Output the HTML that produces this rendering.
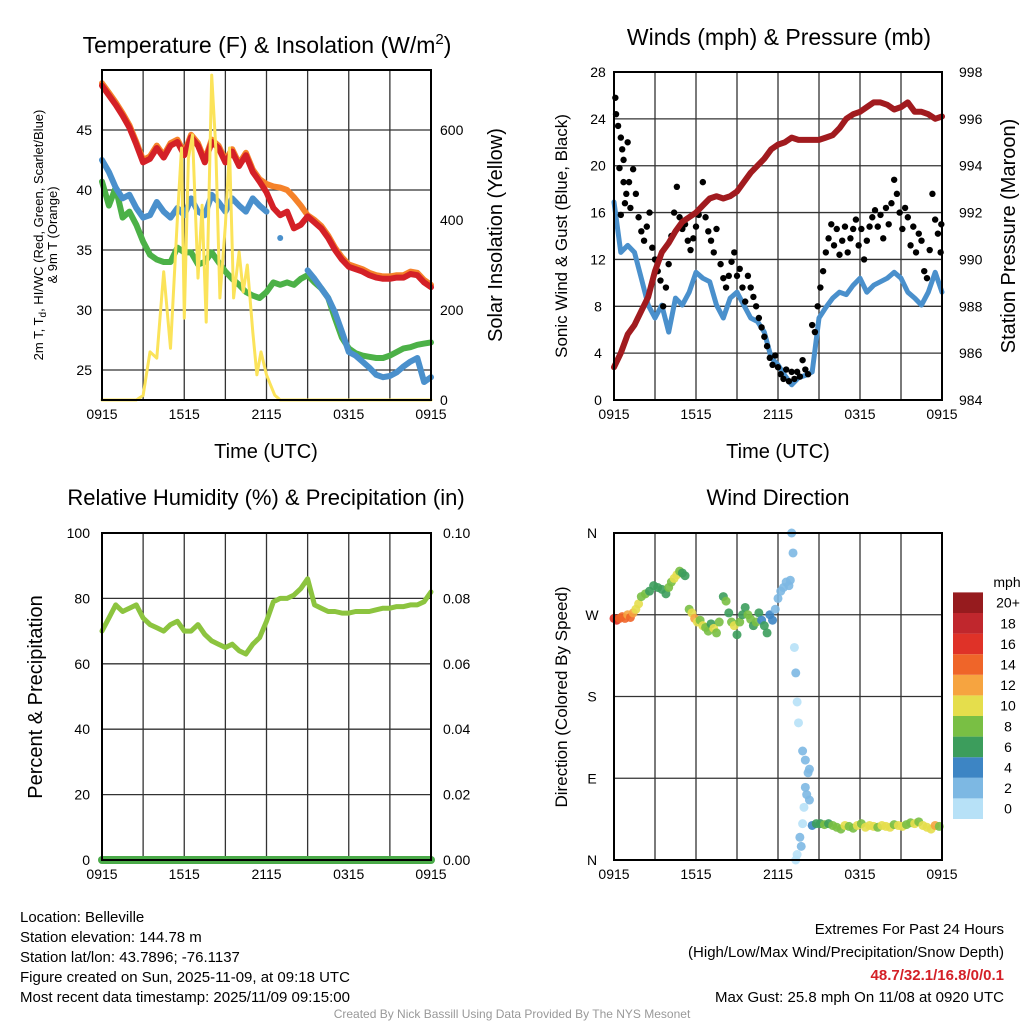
<!DOCTYPE html>
<html><head><meta charset="utf-8"><style>
body{margin:0;background:#fff;}
svg{display:block;font-family:"Liberation Sans",sans-serif;}
</style></head><body>
<svg id="s" width="1024" height="1024" viewBox="0 0 1024 1024"></svg>
<script>
// ---- data ----
const halfHours = Array.from({length:49},(_,i)=>i*0.5);
const tempRed = [48.7,47.9,47.1,46.2,45.2,43.8,42.3,42.6,43.5,42.7,43.7,44,42.9,44.4,43.7,42.3,44,43.5,42.3,43.2,42,42.9,41.5,40.7,39.8,38.5,37.9,38.2,36.8,37.1,37.8,37.3,36.8,36,35,34.2,33.6,33.4,33.2,32.9,32.7,32.6,32.6,32.7,32.7,33,32.9,32.3,31.9];
const temp9mOrange = [48.9,48.1,47.3,46.4,45.4,44,42.5,42.8,43.7,42.9,43.9,44.2,43.1,44.6,43.9,42.5,44.2,43.7,42.5,43.4,42.2,43.1,41.7,40.9,40.5,40.3,40.2,40.0,39.4,38.7,37.9,37.5,37,36.2,35.2,34.4,33.8,33.6,33.4,33.1,32.9,32.8,32.8,32.9,32.9,33.2,33.1,32.5,32.1];
const dewBlue = [42.5,41.5,40.2,39.3,39.6,38.5,37.7,37.9,39,38.2,37.7,38.5,37.9,39.3,38.2,37.9,39.6,39,38.2,39.3,38.7,38.2,39.3,38.7,38.2,null,null,null,null,null,33.3,32.6,31.8,31,29.8,28.2,26.5,26.2,25.7,25.2,24.6,24.4,24.5,24.8,25.3,25.7,26,24,24.4];
const dewIsolatedHour = [13]; const dewIsolatedVal = [36];
const hiwcGreen = [40.7,38.7,40.2,37.7,38.2,37.1,35.7,34.6,34.2,34,34,35.2,34.8,34.8,33.8,34,34.8,34,33.2,32.6,32.1,31.5,31.2,31,31.5,32.3,32.1,32.3,32.1,32.6,32.9,32.3,31.8,31,29.3,27.7,26.8,26.4,26.2,26.1,26,26,26.2,26.5,26.8,26.9,27.1,27.2,27.3];
const solarHours = [0,2.5,3,3.5,4,4.5,5,5.5,5.8,6,6.3,6.6,7,7.3,7.6,8,8.3,8.6,9,9.3,9.6,10,10.3,10.6,11,11.3,11.6,12,12.3,12.6,13,24];
const solarVals = [0,0,10,107,93,285,115,404,560,182,537,589,271,433,173,722,560,227,389,560,227,329,240,300,151,56,107,56,33,11,0,0];
const pressure = [985.4,986,986.8,987.2,987.8,988.4,989.5,990.3,990.7,991.2,991.6,991.8,992,992.3,992.6,992.7,992.6,992.7,992.9,993.3,993.7,994,994.3,994.7,994.9,995,995.2,995.1,995.1,995.1,995.1,995.2,995.3,995.6,996,996.2,996.3,996.5,996.7,996.7,996.6,996.4,996.5,996.7,996.3,996.3,996.2,996,996.1];
const windBlue = [16.9,12.6,13.2,12.6,10.4,8.1,7,8.1,5.8,8.7,8.1,9.2,10.9,10.4,10.1,8.1,7,8.7,9.2,8.1,7,6.7,5.8,3.6,3,2.1,1.3,1.9,2.1,2.4,7,7.9,8.7,9.2,9,9.8,10.4,9.2,9.8,10.1,10.4,10.9,10.4,9.2,8.7,8.1,9.2,10.9,9.2];
const gustHours = [0.1,0.15,0.3,0.5,0.6,0.7,1.0,0.4,0.7,0.9,1.2,0.5,0.8,1.1,1.4,1.6,1.8,2.0,2.2,2.4,2.6,2.8,3.0,3.2,3.4,3.6,3.8,4.0,4.2,4.4,4.6,4.8,5.0,5.2,5.4,5.6,5.8,6.0,6.2,6.5,6.7,6.9,7.1,7.3,7.5,7.8,8.0,8.2,8.4,8.6,8.8,9.0,9.2,9.4,9.6,9.8,10.0,10.2,10.4,10.6,10.8,11.0,11.2,11.4,11.6,11.8,12.0,12.2,12.4,12.6,12.8,13.0,13.2,13.4,13.6,13.8,14.0,14.2,14.5,14.7,14.9,15.1,15.3,15.5,15.7,15.9,16.1,16.3,16.5,16.7,16.9,17.1,17.3,17.5,17.7,17.9,18.1,18.3,18.5,18.7,18.9,19.1,19.3,19.5,19.7,19.9,20.1,20.3,20.5,20.7,20.9,21.1,21.3,21.5,21.7,21.9,22.1,22.3,22.5,22.7,22.9,23.1,23.3,23.5,23.7,23.9,23.95];
const gustVals = [25.8,24.4,23.4,22.4,21.4,20.5,22,19.8,18.6,17.6,16.4,15.8,16.8,18.6,19.7,17.6,15.6,14.4,13.6,14.8,16,13,12,11,10.2,8,9.6,11.6,14,16,18.2,15.6,14.6,15,13.6,12.8,13.8,14.8,15.8,18.6,15.6,14.4,13.6,12.6,14.6,11.6,10.4,9.6,10.6,11.8,12.6,10.6,11.2,9.6,8.4,10.6,9.6,8.8,8,7,6.2,5.4,4.6,3.6,3,3.8,2.8,2.2,1.8,2.6,1.6,2.4,1.8,2.4,2,3.4,2.6,2.2,6.4,5.8,8,9.6,11,12.6,13.8,15,13.2,14.6,12.4,13.6,14.8,12.6,13.8,14.6,15.4,13.2,14.6,12,13.6,14.8,15.6,16.2,14.8,15.8,13.8,16.4,15,16.8,18.8,17.6,16,14.6,16.4,15.6,13.2,14.8,12.6,14.2,13.6,11,10.4,12.8,17.6,15.4,14.2,12.6,15];
const rhVals = [70,74,78,76,77,78,74,72,71,70,72,73,70,70,72,69,67,66,65,66,64,63,66,68,73,79,80,80,81,83,86,78,77,76,76,75.5,75.5,76,76,76,76.5,77,77,77.5,77.5,78,78,79,82];
const precipVals = Array(49).fill(0);
const dirHours = [0,0.2,0.4,0.6,0.8,1.0,1.2,1.4,1.6,1.8,2.0,2.3,2.6,2.9,3.2,3.5,3.8,4.0,4.2,4.4,4.6,4.8,5.0,5.2,5.5,5.7,5.9,6.1,6.3,6.5,6.7,6.9,7.1,7.3,7.5,7.7,8.0,8.2,8.4,8.6,8.8,9.0,9.2,9.4,9.6,9.8,10.0,10.2,10.4,10.6,10.8,11.0,11.2,11.4,11.6,11.8,12.0,12.2,12.4,12.6,12.8,12.9,13.0,13.1,13.2,13.3,13.4,13.5,13.8,14.0,14.2,14.3,14.0,14.1,14.3,13.9,13.8,13.6,13.7,13.4,13.3,14.5,14.8,15.1,15.4,15.7,16.0,16.3,16.6,16.9,17.2,17.5,17.8,18.1,18.4,18.7,19.0,19.3,19.6,19.9,20.2,20.5,20.8,21.1,21.4,21.7,22.0,22.3,22.6,22.9,23.2,23.5,23.8];
const dirVals = [266,264,266,268,266,270,267,272,276,282,290,293,296,302,300,298,293,300,306,310,314,318,316,313,276,272,266,262,264,258,256,252,260,255,250,262,290,285,272,262,258,248,262,270,278,270,265,258,262,272,264,258,250,270,264,276,288,296,300,306,302,308,360,338,234,206,174,151,120,110,96,100,80,72,66,58,40,25,15,6,0,38,40,40,39,40,38,36,34,38,37,35,38,40,36,38,37,36,38,37,36,39,38,37,39,41,40,42,38,36,34,38,37];
const dirSpeeds = [16,17,15,14,14,13,14,12,10,11,8,8,7,7,6,7,6,8,9,10,10,9,6,7,8,10,12,10,9,10,9,8,7,10,9,8,7,8,6,9,10,7,8,6,7,8,9,7,8,6,5,7,6,5,4,3,2,3,2,2,2,3,2,2,1,2,1,1,2,2,3,2,3,2,3,1,1,3,2,1,1,5,6,7,8,7,8,9,8,10,8,9,10,9,10,11,10,8,10,10,11,9,10,10,8,9,10,8,10,10,11,13,8];
const speedLabels = ["0","2","4","6","8","10","12","14","16","18","20+"];
const xTickLabels = ["0915","1515","2115","0315","0915"];

// ---- helpers ----
const NS="http://www.w3.org/2000/svg", S=document.getElementById('s');
function mk(tag,attrs,parent,text){const e=document.createElementNS(NS,tag);for(const k in attrs)e.setAttribute(k,attrs[k]);if(text!==undefined)e.textContent=text;(parent||S).appendChild(e);return e;}
const speedColors=["#b7e1f7","#7db8e3","#3d85c4","#3c9d5c","#79bf44","#e5de4c","#f6a440","#ef6529","#df3228","#c0272d","#961b1e"];
function speedColor(v){return speedColors[Math.min(10,Math.floor(v/2))];}

function panel(x0,y0,w,h,name){
  const g=mk('g',{});  
  const xs=t=>x0+t*w/24;
  for(let i=0;i<=8;i++){const l=mk('line',{x1:xs(i*3),x2:xs(i*3),y1:y0,y2:y0+h,stroke:'#333','stroke-width':1.3},g);}
  xTickLabels.forEach((lb,i)=>{const t=mk('text',{x:xs(i*6),y:y0+h+19,'font-size':14,'text-anchor':'middle'},g,lb);});
  return {g,xs};
}
function hline(g,x0,w,y){const l=mk('line',{x1:x0,x2:x0+w,y1:y,y2:y,stroke:'#333','stroke-width':1.3},g);}
function frame(g,x0,y0,w,h){const r=mk('rect',{x:x0,y:y0,width:w,height:h,fill:'none',stroke:'#000','stroke-width':2},g);}
function line(g,xsArr,ys,fx,fy,color,width,name){
  let d='',pen=false;
  for(let i=0;i<xsArr.length;i++){if(ys[i]===null){pen=false;continue;}d+=(pen?'L':'M')+fx(xsArr[i]).toFixed(1)+' '+fy(ys[i]).toFixed(1);pen=true;}
  const p=mk('path',{d,fill:'none',stroke:color,'stroke-width':width,'stroke-linejoin':'round','stroke-linecap':'round'},g);
  return p;
}
function txt(x,y,s,size,anchor,extra,name){const t=mk('text',Object.assign({x,y,'font-size':size,'text-anchor':anchor||'middle'},extra||{}),S,s);return t;}

// ---- Panel 1: temperature ----
{
 const X0=102,Y0=70,W=329,H=330;
 const P=panel(X0,Y0,W,H,'temperature-panel');
 const yT=v=>400-(v-22.5)*12.0, yS=v=>400-v*0.45;
 [25,30,35,40,45].forEach(v=>{hline(P.g,X0,W,yT(v));const t=mk('text',{x:X0-10,y:yT(v)+5,'font-size':14,'text-anchor':'end'},P.g,String(v));});
 [0,200,400,600].forEach(v=>{const t=mk('text',{x:X0+W+9,y:yS(v)+5,'font-size':14,'text-anchor':'start'},P.g,String(v));});
 line(P.g,halfHours,hiwcGreen,P.xs,yT,'#4cb147',6,'hiwc-line');
 line(P.g,halfHours,dewBlue,P.xs,yT,'#4a90cc',6,'dewpoint-line');
 const c=mk('circle',{cx:P.xs(dewIsolatedHour[0]),cy:yT(dewIsolatedVal[0]),r:3,fill:'#4a90cc'},P.g);
 line(P.g,halfHours,temp9mOrange,P.xs,yT,'#f5822a',6,'temp-9m-line');
 line(P.g,halfHours,tempRed,P.xs,yT,'#d42027',6,'temp-2m-line');
 line(P.g,solarHours,solarVals,P.xs,yS,'#fbe35a',3,'solar-line');
 frame(P.g,X0,Y0,W,H);
 const ti=txt(267,53,'Temperature (F) & Insolation (W/m',23,'middle',{},'temperature-title');
 const sup=mk('tspan',{dy:-9,'font-size':15},ti,'2');const cl=mk('tspan',{dy:9},ti,')');
 txt(266,458,'Time (UTC)',20,'middle',{},'x-axis-title');
 const yl=txt(0,0,'',13,'middle',{transform:'translate(43,235) rotate(-90)'},'left-axis-title');
 yl.textContent='2m T, T';const sb=mk('tspan',{dy:3,'font-size':10},yl,'d');mk('tspan',{dy:-3},yl,', HI/WC (Red, Green, Scarlet/Blue)');
 txt(0,0,'& 9m T (Orange)',13,'middle',{transform:'translate(57,235) rotate(-90)'},'left-axis-title-2');
 txt(0,0,'Solar Insolation (Yellow)',20,'middle',{transform:'translate(502,235) rotate(-90)'},'right-axis-title');
}
// ---- Panel 2: wind & pressure ----
{
 const X0=614,Y0=72,W=328,H=328;
 const P=panel(X0,Y0,W,H,'wind-panel');
 const yW=v=>400-v*11.714, yP=v=>400-(v-984)*23.43;
 [0,4,8,12,16,20,24,28].forEach(v=>{if(v>0&&v<28)hline(P.g,X0,W,yW(v));const t=mk('text',{x:X0-16,y:yW(v)+5,'font-size':14,'text-anchor':'middle'},P.g,String(v));});
 [984,986,988,990,992,994,996,998].forEach(v=>{const t=mk('text',{x:X0+W+17,y:yP(v)+5,'font-size':14,'text-anchor':'start'},P.g,String(v));});
 line(P.g,halfHours,windBlue,P.xs,yW,'#4a90cc',5,'sonic-wind-line');
 gustHours.forEach((t,i)=>{const c=mk('circle',{cx:P.xs(t),cy:yW(gustVals[i]),r:3.2,fill:'#000'},P.g);});
 line(P.g,halfHours,pressure,P.xs,yP,'#a11b1f',6,'pressure-line');
 frame(P.g,X0,Y0,W,H);
 txt(779,45,'Winds (mph) & Pressure (mb)',23,'middle',{},'wind-title');
 txt(778,458,'Time (UTC)',20,'middle',{},'x-axis-title-2');
 txt(0,0,'Sonic Wind & Gust (Blue, Black)',17,'middle',{transform:'translate(567,236) rotate(-90)'},'wind-axis-title');
 txt(0,0,'Station Pressure (Maroon)',20,'middle',{transform:'translate(1015,236) rotate(-90)'},'pressure-axis-title');
}
// ---- Panel 3: RH ----
{
 const X0=102,Y0=533,W=329,H=327;
 const P=panel(X0,Y0,W,H,'humidity-panel');
 const yR=v=>860-v*3.27;
 [0,20,40,60,80,100].forEach((v,i)=>{if(v>0&&v<100)hline(P.g,X0,W,yR(v));const t=mk('text',{x:X0-12,y:yR(v)+5,'font-size':14,'text-anchor':'end'},P.g,String(v));
  const t2=mk('text',{x:X0+W+12,y:yR(v)+5,'font-size':14,'text-anchor':'start'},P.g,(v/1000).toFixed(2));});
 line(P.g,halfHours,rhVals,P.xs,yR,'#8cc43f',5,'rh-line');
 line(P.g,halfHours,precipVals,P.xs,v=>860-v*3270,'#4aaa48',8,'precip-line');
 frame(P.g,X0,Y0,W,H);
 txt(266,505,'Relative Humidity (%) & Precipitation (in)',22,'middle',{},'humidity-title');
 txt(0,0,'Percent & Precipitation',20,'middle',{transform:'translate(42,697) rotate(-90)'},'humidity-axis-title');
}
// ---- Panel 4: wind direction ----
{
 const X0=614,Y0=533,W=328,H=327;
 const P=panel(X0,Y0,W,H,'direction-panel');
 const yD=v=>860-v*327/360;
 ['N','E','S','W','N'].forEach((lb,i)=>{const v=i*90;if(i>0&&i<4)hline(P.g,X0,W,yD(v));const t=mk('text',{x:X0-22,y:yD(v)+5,'font-size':14,'text-anchor':'middle'},P.g,lb);});
 dirHours.forEach((t,i)=>{const c=mk('circle',{cx:P.xs(t),cy:yD(dirVals[i]),r:4.5,fill:speedColor(dirSpeeds[i]),opacity:0.9},P.g);});
 frame(P.g,X0,Y0,W,H);
 txt(778,505,'Wind Direction',22,'middle',{},'direction-title');
 txt(0,0,'Direction (Colored By Speed)',17,'middle',{transform:'translate(567,697) rotate(-90)'},'direction-axis-title');
 // colorbar
 const cb=mk('g',{});
 const bh=20.6;
 speedColors.forEach((c,i)=>{const r=mk('rect',{x:953,y:819-(i+1)*bh,width:30,height:bh,fill:c},cb);
  const t=mk('text',{x:1008,y:819-i*bh-bh/2+5,'font-size':14,'text-anchor':'middle'},cb,speedLabels[i]);});
 txt(1007,587,'mph',14,'middle',{},'colorbar-title');
}
// ---- footer ----
const info=['Location: Belleville','Station elevation: 144.78 m','Station lat/lon: 43.7896; -76.1137','Figure created on Sun, 2025-11-09, at 09:18 UTC','Most recent data timestamp: 2025/11/09 09:15:00'];
info.forEach((s,i)=>txt(20,922+i*20,s,15,'start',{},'station-info-line'));
txt(1004,934,'Extremes For Past 24 Hours',15,'end',{},'extremes-title');
txt(1004,957,'(High/Low/Max Wind/Precipitation/Snow Depth)',15,'end',{},'extremes-subtitle');
txt(1004,980,'48.7/32.1/16.8/0/0.1',15,'end',{fill:'#d42027','font-weight':'bold'},'extremes-values');
txt(1004,1002,'Max Gust: 25.8 mph On 11/08 at 0920 UTC',15,'end',{},'max-gust');
txt(512,1018,'Created By Nick Bassill Using Data Provided By The NYS Mesonet',12,'middle',{fill:'#999'},'credit');
</script>
</body></html>
